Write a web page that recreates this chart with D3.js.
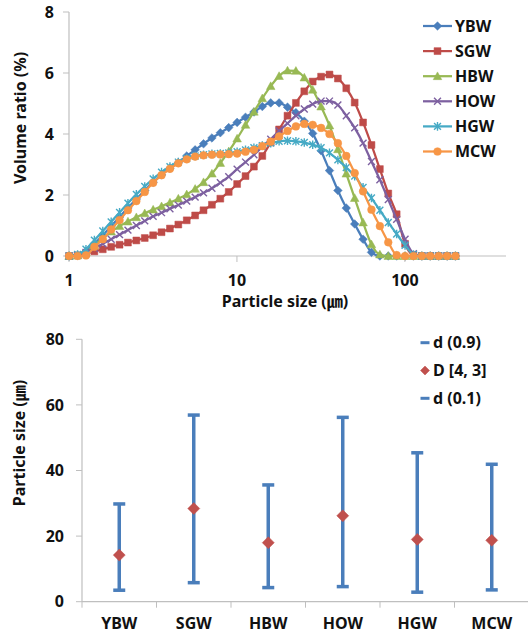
<!DOCTYPE html>
<html>
<head>
<meta charset="utf-8">
<script src="https://cdn.jsdelivr.net/npm/d3@7"></script>
<style>
  body { margin: 0; background: #fff; }
  svg text { font-family: "Noto Sans", "Noto Sans CJK KR", sans-serif; font-weight: bold; fill: #111; }
</style>
</head>
<body>
<div id="chart"></div>
<script>
// particle size bins (um) of the laser diffraction run
var sizes = [1.002, 1.125, 1.262, 1.416, 1.589, 1.783, 2.000, 2.244, 2.518, 2.825,
  3.170, 3.557, 3.991, 4.477, 5.024, 5.637, 6.325, 7.096, 7.962, 8.934,
  10.024, 11.247, 12.619, 14.159, 15.887, 17.825, 20.000, 22.440, 25.179, 28.251,
  31.698, 35.566, 39.905, 44.774, 50.238, 56.368, 63.246, 70.963, 79.621, 89.337,
  100.237, 112.468, 126.191, 141.589, 158.866, 178.250, 200.000];

var YBW = [0, 0.02, 0.15, 0.4, 0.68, 0.98, 1.28, 1.58, 1.87, 2.15,
  2.42, 2.66, 2.88, 3.06, 3.28, 3.48, 3.68, 3.87, 4.04, 4.21,
  4.38, 4.55, 4.72, 4.9, 5.02, 5.02, 4.88, 4.7, 4.42, 4.02,
  3.45, 2.8, 2.15, 1.57, 1.05, 0.55, 0.12, 0, 0, 0,
  0, 0, 0, 0, 0, 0, 0];
var SGW = [0, 0.02, 0.08, 0.15, 0.22, 0.3, 0.37, 0.44, 0.51, 0.59,
  0.68, 0.78, 0.9, 1.03, 1.17, 1.33, 1.5, 1.68, 1.88, 2.1,
  2.36, 2.62, 2.93, 3.28, 3.72, 4.15, 4.6, 5.02, 5.4, 5.72,
  5.88, 5.95, 5.82, 5.5, 5.03, 4.38, 3.64, 2.85, 2.05, 1.37,
  0.4, 0.03, 0, 0, 0, 0, 0];
var HBW = [0, 0.02, 0.12, 0.35, 0.58, 0.8, 0.98, 1.13, 1.27, 1.4,
  1.52, 1.63, 1.75, 1.88, 2.02, 2.2, 2.42, 2.7, 3.05, 3.43,
  3.85, 4.3, 4.73, 5.17, 5.57, 5.9, 6.08, 6.07, 5.85, 5.45,
  4.9, 4.28, 3.5, 2.7, 1.9, 1.1, 0.38, 0.05, 0, 0,
  0, 0, 0, 0, 0, 0, 0];
var HOW = [0, 0.03, 0.12, 0.25, 0.4, 0.55, 0.7, 0.85, 1.0, 1.15,
  1.3, 1.42, 1.55, 1.67, 1.8, 1.93, 2.07, 2.22, 2.4, 2.6,
  2.85, 3.08, 3.32, 3.58, 3.83, 4.1, 4.35, 4.6, 4.82, 4.98,
  5.08, 5.08, 4.95, 4.6, 4.2, 3.7, 3.1, 2.5, 1.85, 1.2,
  0.55, 0.08, 0, 0, 0, 0, 0];
var HGW = [0, 0.05, 0.22, 0.52, 0.82, 1.12, 1.43, 1.73, 2.02, 2.28,
  2.53, 2.75, 2.93, 3.08, 3.2, 3.28, 3.32, 3.35, 3.36, 3.38,
  3.42, 3.48, 3.55, 3.62, 3.7, 3.76, 3.78, 3.76, 3.72, 3.65,
  3.55, 3.38, 3.15, 2.9, 2.62, 2.25, 1.9, 1.5, 1.1, 0.72,
  0.35, 0.05, 0, 0, 0, 0, 0];
var MCW = [0, 0, 0.02, 0.3, 0.55, 0.87, 1.18, 1.5, 1.8, 2.1,
  2.4, 2.65, 2.86, 3.04, 3.17, 3.26, 3.3, 3.32, 3.33, 3.34,
  3.36, 3.42, 3.48, 3.6, 3.75, 3.92, 4.1, 4.25, 4.33, 4.3,
  4.2, 4.0, 3.7, 3.28, 2.72, 2.12, 1.52, 0.98, 0.45, 0.03,
  0, 0, 0, 0, 0, 0, 0];

var seriesNames = ['YBW', 'SGW', 'HBW', 'HOW', 'HGW', 'MCW'];
var seriesValues = [YBW, SGW, HBW, HOW, HGW, MCW];
var seriesColors = ['#4A7EBB', '#BE4B48', '#98B954', '#7D60A0', '#46AAC5', '#F79646'];
var seriesMarkers = ['diamond', 'square', 'triangle', 'x', 'star', 'circle'];

var xTicks = [1, 10, 100];
var yTicksTop = [0, 2, 4, 6, 8];

// lower panel: d(0.1), D[4,3], d(0.9) per sample
var samples = ['YBW', 'SGW', 'HBW', 'HOW', 'HGW', 'MCW'];
var d10 = [3.5, 5.8, 4.3, 4.6, 2.9, 3.6];
var d43 = [14.2, 28.4, 18.0, 26.2, 19.0, 18.7];
var d90 = [29.8, 56.9, 35.6, 56.2, 45.4, 41.9];
var yTicksBottom = [0, 20, 40, 60, 80];

var W = 528, H = 634;
var axisColor = '#BFBFBF';

var svg = d3.select('#chart').append('svg').attr('width', W).attr('height', H);

var markerPath = function(type, s) {
  var p = d3.path();
  if (type == 'diamond') {
    p.moveTo(0, -s); p.lineTo(s, 0); p.lineTo(0, s); p.lineTo(-s, 0); p.closePath();
  } else if (type == 'square') {
    p.rect(-s * 0.8, -s * 0.8, s * 1.6, s * 1.6);
  } else if (type == 'triangle') {
    p.moveTo(0, -s); p.lineTo(s, s * 0.8); p.lineTo(-s, s * 0.8); p.closePath();
  } else if (type == 'circle') {
    p.arc(0, 0, s * 0.9, 0, 2 * Math.PI);
  } else {
    var k = s * 0.8;
    p.moveTo(-k, -k); p.lineTo(k, k); p.moveTo(k, -k); p.lineTo(-k, k);
    if (type == 'star') { p.moveTo(0, -s); p.lineTo(0, s); }
  }
  return p.toString();
};

var drawMarker = function(g, type, color, x, y, s) {
  var filled = (type != 'x' && type != 'star');
  g.append('path')
    .attr('d', markerPath(type, s))
    .attr('transform', 'translate(' + x + ',' + y + ')')
    .attr('fill', filled ? color : 'none')
    .attr('stroke', color)
    .attr('stroke-width', filled ? 0.5 : 1.4);
};

// ---------- top panel ----------
var x = d3.scaleLog().domain([1, 400]).range([69, 506]);
var y = d3.scaleLinear().domain([0, 8]).range([256, 12]);

var topG = svg.append('g');

topG.append('line').attr('x1', 69).attr('x2', 69).attr('y1', y(8)).attr('y2', y(0))
  .attr('stroke', axisColor).attr('stroke-width', 1.2);
topG.append('line').attr('x1', 69).attr('x2', 506).attr('y1', y(0)).attr('y2', y(0))
  .attr('stroke', axisColor).attr('stroke-width', 1.2);

topG.selectAll('.ytick').data(yTicksTop).enter().append('line')
  .attr('x1', 63).attr('x2', 69).attr('y1', d => y(d)).attr('y2', d => y(d))
  .attr('stroke', axisColor);
topG.selectAll('.ylab').data(yTicksTop).enter().append('text')
  .attr('x', 54).attr('y', d => y(d)).attr('dy', '0.35em')
  .attr('text-anchor', 'end').attr('font-size', 16).text(d => d);

topG.selectAll('.xtick').data(xTicks).enter().append('line')
  .attr('x1', d => x(d)).attr('x2', d => x(d)).attr('y1', 256).attr('y2', 262)
  .attr('stroke', axisColor);
topG.selectAll('.xlab').data(xTicks).enter().append('text')
  .attr('x', d => x(d)).attr('y', 280).attr('dy', '0.35em')
  .attr('text-anchor', 'middle').attr('font-size', 16).text(d => d);

topG.append('text').attr('x', 285).attr('y', 301).attr('dy', '0.35em')
  .attr('text-anchor', 'middle').attr('font-size', 16).text('Particle size (\u339B)');
topG.append('text').attr('transform', 'translate(20,118) rotate(-90)')
  .attr('dy', '0.35em').attr('text-anchor', 'middle').attr('font-size', 16)
  .text('Volume ratio (%)');

var line = d3.line()
  .x(d => x(d[0]))
  .y(d => y(d[1]))
  .curve(d3.curveMonotoneX);

seriesValues.forEach(function(vals, si) {
  var pts = sizes.map(function(s, i) { return [s, vals[i]]; });
  var g = topG.append('g');
  g.append('path').datum(pts).attr('d', line)
    .attr('fill', 'none').attr('stroke', seriesColors[si]).attr('stroke-width', 2.25);
  pts.forEach(function(p) {
    drawMarker(g, seriesMarkers[si], seriesColors[si], x(p[0]), y(p[1]), 4.3);
  });
});

// legend
seriesNames.forEach(function(name, i) {
  var ly = 26 + i * 25.1;
  var g = topG.append('g');
  g.append('line').attr('x1', 423).attr('x2', 452).attr('y1', ly).attr('y2', ly)
    .attr('stroke', seriesColors[i]).attr('stroke-width', 2.25);
  drawMarker(g, seriesMarkers[i], seriesColors[i], 437.5, ly, 4.3);
  g.append('text').attr('x', 455).attr('y', ly).attr('dy', '0.35em')
    .attr('font-size', 16).text(name);
});

// ---------- bottom panel ----------
var xb = d3.scaleBand().domain(samples).range([82, 529]);
var yb = d3.scaleLinear().domain([0, 80]).range([601.7, 339.3]);
var barColor = '#4A7EBB';
var pointColor = '#C0504D';

var botG = svg.append('g');

botG.append('line').attr('x1', 82).attr('x2', 82).attr('y1', yb(80)).attr('y2', yb(0))
  .attr('stroke', axisColor).attr('stroke-width', 1.2);
botG.append('line').attr('x1', 82).attr('x2', 528).attr('y1', yb(0)).attr('y2', yb(0))
  .attr('stroke', axisColor).attr('stroke-width', 1.2);

botG.selectAll('.ytick').data(yTicksBottom).enter().append('line')
  .attr('x1', 76).attr('x2', 82).attr('y1', d => yb(d)).attr('y2', d => yb(d))
  .attr('stroke', axisColor);
botG.selectAll('.ylab').data(yTicksBottom).enter().append('text')
  .attr('x', 64).attr('y', d => yb(d)).attr('dy', '0.35em')
  .attr('text-anchor', 'end').attr('font-size', 16).text(d => d);

botG.selectAll('.xtick').data(samples).enter().append('line')
  .attr('x1', d => xb(d)).attr('x2', d => xb(d)).attr('y1', yb(0)).attr('y2', yb(0) + 6)
  .attr('stroke', axisColor);
botG.selectAll('.xlab').data(samples).enter().append('text')
  .attr('x', d => xb(d) + xb.bandwidth() / 2).attr('y', 623).attr('dy', '0.35em')
  .attr('text-anchor', 'middle').attr('font-size', 16).text(d => d);

botG.append('text').attr('transform', 'translate(19,443) rotate(-90)')
  .attr('dy', '0.35em').attr('text-anchor', 'middle').attr('font-size', 16)
  .text('Particle size (\u339B)');

samples.forEach(function(s, i) {
  var cx = xb(s) + xb.bandwidth() / 2;
  botG.append('line').attr('x1', cx).attr('x2', cx).attr('y1', yb(d90[i])).attr('y2', yb(d10[i]))
    .attr('stroke', barColor).attr('stroke-width', 3.5);
  // caps are the d(0.9) / d(0.1) dash markers
  [d90[i], d10[i]].forEach(function(v) {
    botG.append('rect').attr('x', cx - 6).attr('y', yb(v) - 1.75)
      .attr('width', 12).attr('height', 3.5).attr('fill', barColor);
  });
  drawMarker(botG, 'diamond', pointColor, cx, yb(d43[i]), 6);
});

var botLegend = [
  {name: 'd (0.9)', type: 'dash'},
  {name: 'D [4, 3]', type: 'diamond'},
  {name: 'd (0.1)', type: 'dash'}
];
botLegend.forEach(function(d, i) {
  var ly = 342.7 + i * 27.8;
  if (d.type == 'dash') {
    botG.append('rect').attr('x', 420.5).attr('y', ly - 1.5).attr('width', 9).attr('height', 3)
      .attr('fill', barColor);
  } else {
    drawMarker(botG, 'diamond', pointColor, 425, ly, 4.5);
  }
  botG.append('text').attr('x', 433).attr('y', ly).attr('dy', '0.35em')
    .attr('font-size', 16).text(d.name);
});
</script>
</body>
</html>
